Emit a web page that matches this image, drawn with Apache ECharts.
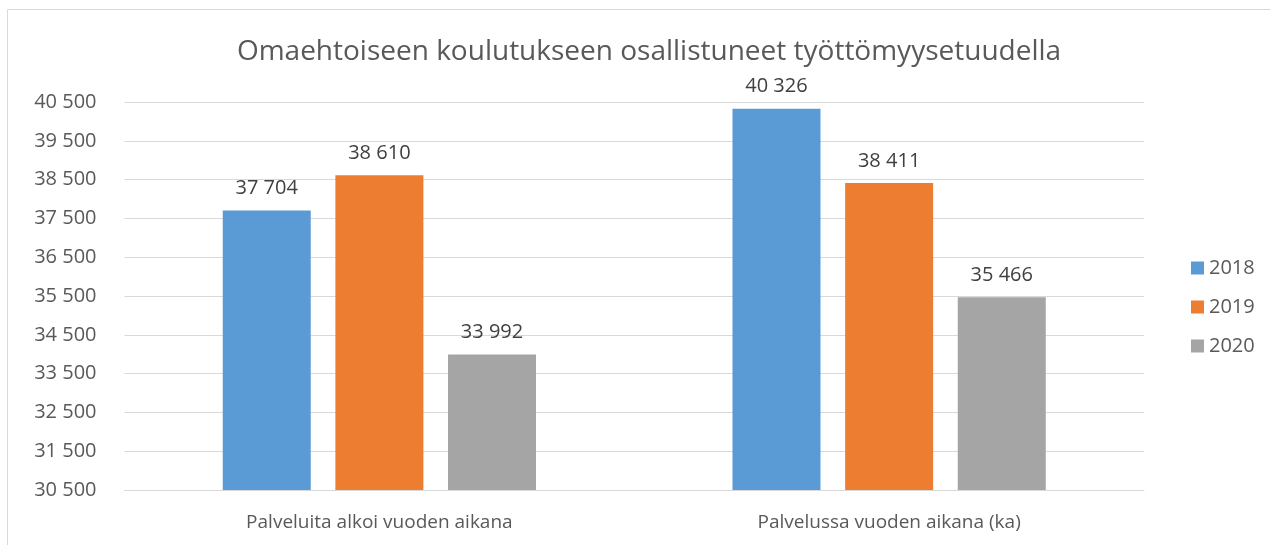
<!DOCTYPE html>
<html><head><meta charset="utf-8">
<script src="https://cdn.jsdelivr.net/npm/echarts@6/dist/echarts.min.js"></script>
<style>html,body{margin:0;padding:0;background:#fff}#c{width:1270px;height:545px}</style>
</head><body><div id="c"></div>
<script>
const categories = ["Palveluita alkoi vuoden aikana", "Palvelussa vuoden aikana (ka)"];
const seriesNames = ["2018", "2019", "2020"];
const values2018 = [37704, 40326];
const values2019 = [38610, 38411];
const values2020 = [33992, 35466];
const colors = ["#5B9BD5", "#ED7D31", "#A5A5A5"];
const font = "'Open Sans', 'Liberation Sans', sans-serif";
const fmt = v => String(v).replace(/\B(?=(\d{3})+(?!\d))/g, " ");
const chart = echarts.init(document.getElementById('c'));
const mk = (name, data, i) => ({
  name, type: 'bar', data, barWidth: 88, barGap: '28%',
  itemStyle: {color: colors[i]},
  label: {show: true, position: 'top', distance: 12, formatter: p => fmt(p.value), color: '#404040', fontSize: 20, fontFamily: font}
});
chart.setOption({
  animation: false,
  title: {text: "Omaehtoiseen koulutukseen osallistuneet työttömyysetuudella", left: 644, textAlign: 'center', top: 33,
    textStyle: {color: '#595959', fontSize: 28, fontWeight: 'normal', fontFamily: font}},
  graphic: [{type: 'rect', shape: {x: 7.5, y: 9.5, width: 1300, height: 600}, style: {fill: 'none', stroke: '#D9D9D9', lineWidth: 1}, silent: true}],
  legend: {orient: 'vertical', left: 1186, top: 253, itemWidth: 13, itemHeight: 13, itemGap: 19,
    textStyle: {color: '#595959', fontSize: 20, fontFamily: font}, icon: 'rect', data: seriesNames},
  grid: {left: 124.5, right: 126, top: 102, bottom: 55, containLabel: false},
  xAxis: {type: 'category', data: categories, axisTick: {show: false},
    axisLine: {lineStyle: {color: '#D9D9D9'}},
    axisLabel: {color: '#595959', fontSize: 19, fontFamily: font, margin: 23}},
  yAxis: {type: 'value', min: 30500, max: 40500, interval: 1000,
    axisLine: {show: false}, axisTick: {show: false},
    splitLine: {lineStyle: {color: '#D9D9D9'}},
    axisLabel: {color: '#595959', fontSize: 20, fontFamily: font, margin: 28, formatter: v => fmt(v)}},
  series: [mk(seriesNames[0], values2018, 0), mk(seriesNames[1], values2019, 1), mk(seriesNames[2], values2020, 2)]
});
</script></body></html>
